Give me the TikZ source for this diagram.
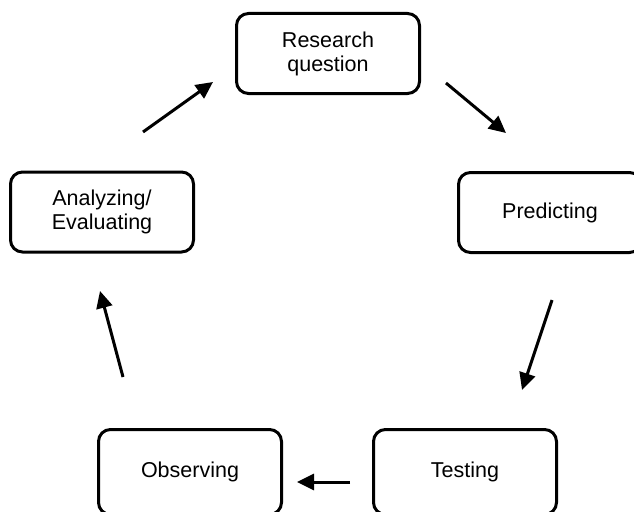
\documentclass[tikz,border=0pt]{standalone}
\usepackage{fontspec}
\setmainfont{Liberation Sans}
\usetikzlibrary{arrows.meta}

\tikzset{
  stage/.style={draw, line width=3pt, rounded corners=12pt, minimum width=183pt,
    minimum height=80pt, align=center, font=\fontsize{21.5}{24}\selectfont},
  low/.style={minimum height=85pt},
  flow/.style={line width=3pt, -{Triangle[length=17pt,width=16pt]}}
}

\begin{document}
\begin{tikzpicture}[x=1pt,y=-1pt]
    \useasboundingbox (0,0) rectangle (634,511);

    \node[stage] (res) at (328,53.5) {Research\\question};
    \node[stage] (pre) at (550,212.5) {Predicting};
    \node[stage,low] (tes) at (465,472) {Testing};
    \node[stage,low] (obs) at (190,472) {Observing};
    \node[stage] (ana) at (102,212) {Analyzing/\\Evaluating};

    \coordinate (A1) at (143,132);
    \coordinate (A2) at (213,82);
    \coordinate (B1) at (446,83);
    \coordinate (B2) at (506,133);
    \coordinate (C1) at (552,300);
    \coordinate (C2) at (522,390);
    \coordinate (D1) at (350,482);
    \coordinate (D2) at (297,482);
    \coordinate (E1) at (123,377);
    \coordinate (E2) at (100,291);

    \draw[flow] (A1) -- (A2); % ana -> res
    \draw[flow] (B1) -- (B2); % res -> pre
    \draw[flow] (C1) -- (C2); % pre -> tes
    \draw[flow] (D1) -- (D2); % tes -> obs
    \draw[flow] (E1) -- (E2); % obs -> ana
\end{tikzpicture}
\end{document}
